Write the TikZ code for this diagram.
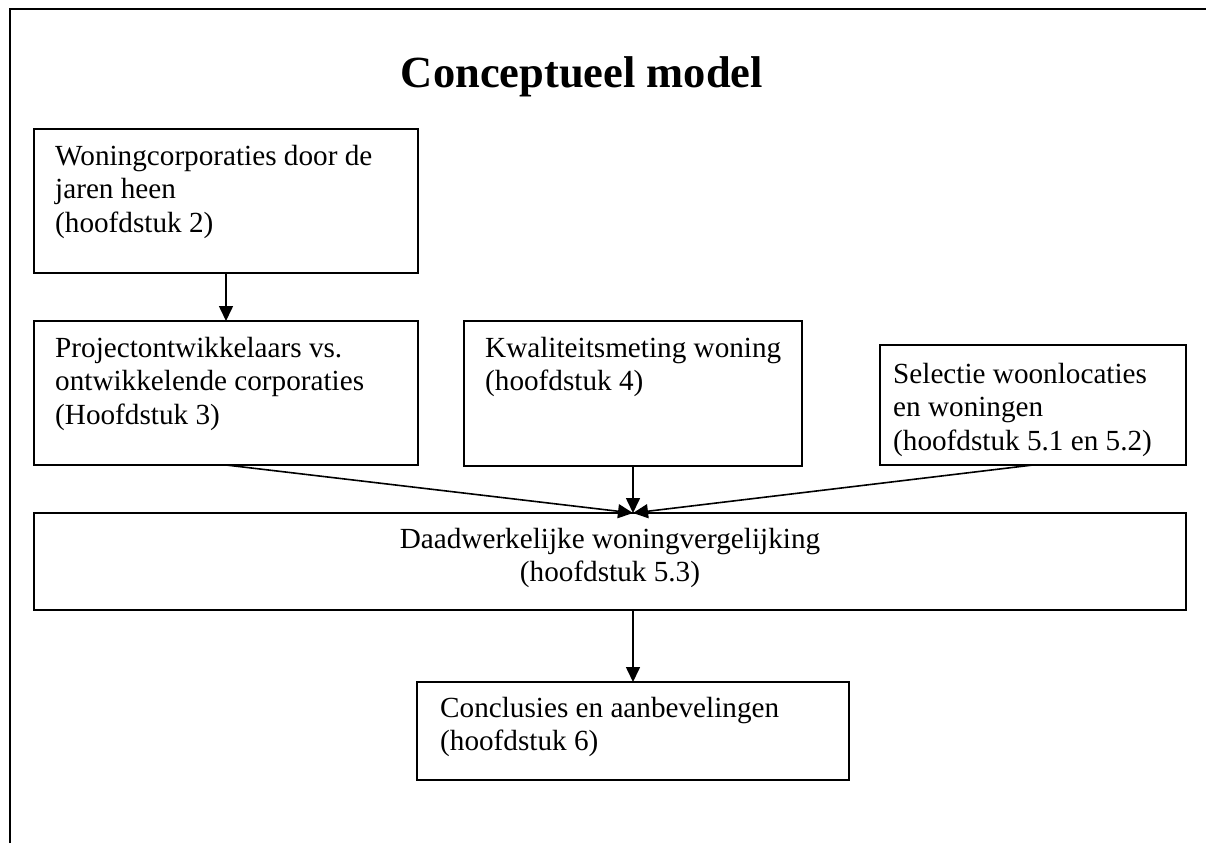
\documentclass[tikz,border=0pt]{standalone}
\usepackage{fontspec}
\setmainfont{Liberation Serif}
\usetikzlibrary{arrows.meta}
\newcommand{\bodyfont}{\fontsize{29.2pt}{33.6pt}\selectfont}
\newcommand{\titlefont}{\fontsize{44.5pt}{50pt}\selectfont\bfseries}
\newcommand{\ltext}[1]{\begin{tabular}[t]{@{}l@{}}#1\end{tabular}}
\newcommand{\ctext}[1]{\begin{tabular}[t]{@{}c@{}}#1\end{tabular}}
\tikzset{
  box/.style={draw, line width=2pt, inner sep=0pt, outer sep=0pt, anchor=north west},
  txt/.style={anchor=base west, inner sep=0pt, font=\bodyfont},
  ctxt/.style={anchor=base, inner sep=0pt, font=\bodyfont},
  arr/.style={line width=1.6pt, -{Triangle[length=15pt,width=14pt]}},
  frame/.style={line width=2.4pt}
}
\begin{document}
\begin{tikzpicture}[x=1pt,y=-1pt]
\path[use as bounding box, fill=white] (0,0) rectangle (1206,843);
% outer frame
\draw[frame] (10,843) -- (10,9) -- (1206,9);
% title
\node[anchor=base, inner sep=0pt, font=\titlefont] (title) at (582,87) {Conceptueel model};
% boxes
\node[box, minimum width=384pt, minimum height=144pt] (b1) at (34,129) {};
\node[box, minimum width=384pt, minimum height=144pt] (b2) at (34,321) {};
\node[box, minimum width=338pt, minimum height=145pt] (b3) at (464,321) {};
\node[box, minimum width=306pt, minimum height=120pt] (b4) at (880,345) {};
\node[box, minimum width=1152pt, minimum height=97pt] (b5) at (34,513) {};
\node[box, minimum width=432pt, minimum height=98pt] (b6) at (417,682) {};
% texts
\node[txt] (t1) at (55,165) {\ltext{Woningcorporaties door de\\ jaren heen\\ (hoofdstuk 2)}};
\node[txt] (t2) at (55,357) {\ltext{Projectontwikkelaars vs.\\ ontwikkelende corporaties\\ (Hoofdstuk 3)}};
\node[txt] (t3) at (485,357) {\ltext{Kwaliteitsmeting woning\\ (hoofdstuk 4)}};
\node[txt] (t4) at (893,383) {\ltext{Selectie woonlocaties\\ en woningen\\ (hoofdstuk 5.1 en 5.2)}};
\node[ctxt] (t5) at (610,548) {\ctext{Daadwerkelijke woningvergelijking\\ (hoofdstuk 5.3)}};
\node[txt] (t6) at (440,717) {\ltext{Conclusies en aanbevelingen\\ (hoofdstuk 6)}};
% connectors
\draw[arr] (b1.south) -- (b2.north);
\draw[arr] (b2.south) -- (b3.south |- b5.north);
\draw[arr] (b3.south) -- (b3.south |- b5.north);
\draw[arr] (b4.south) -- (b3.south |- b5.north);
\draw[arr] (b6.north |- b5.south) -- (b6.north);
\end{tikzpicture}
\end{document}
